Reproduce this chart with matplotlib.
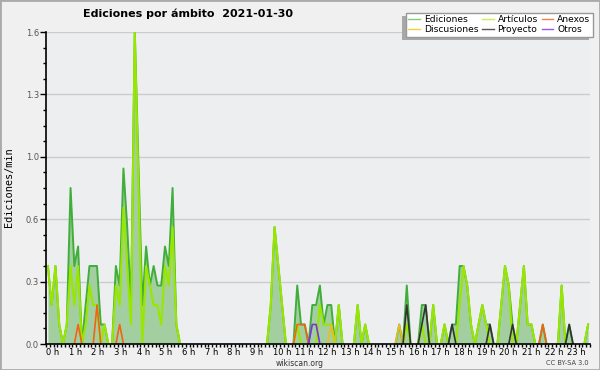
import numpy as np
import matplotlib.pyplot as plt
import matplotlib.transforms as mtransforms
from matplotlib.lines import Line2D
from matplotlib.patches import Rectangle
from matplotlib.ticker import FixedLocator, MultipleLocator

# edits per minute, one value per 10-minute bin (144 bins)
ediciones = [
    0.4, 0.2, 0.4, 0.1, 0.0, 0.1, 0.8, 0.4, 0.5, 0.0, 0.2, 0.4,
    0.4, 0.4, 0.1, 0.1, 0.0, 0.0, 0.4, 0.3, 0.9, 0.6, 0.2, 1.6,
    0.9, 0.2, 0.5, 0.3, 0.4, 0.3, 0.3, 0.5, 0.4, 0.8, 0.1, 0.0,
    0.0, 0.0, 0.0, 0.0, 0.0, 0.0, 0.0, 0.0, 0.0, 0.0, 0.0, 0.0,
    0.0, 0.0, 0.0, 0.0, 0.0, 0.0, 0.0, 0.0, 0.0, 0.0, 0.0, 0.2,
    0.6, 0.4, 0.2, 0.0, 0.0, 0.0, 0.3, 0.1, 0.1, 0.0, 0.2, 0.2,
    0.3, 0.1, 0.2, 0.2, 0.0, 0.2, 0.0, 0.0, 0.0, 0.0, 0.2, 0.0,
    0.1, 0.0, 0.0, 0.0, 0.0, 0.0, 0.0, 0.0, 0.0, 0.1, 0.0, 0.3,
    0.0, 0.0, 0.0, 0.2, 0.2, 0.0, 0.2, 0.0, 0.0, 0.1, 0.0, 0.1,
    0.1, 0.4, 0.4, 0.3, 0.1, 0.0, 0.1, 0.2, 0.1, 0.1, 0.0, 0.0,
    0.2, 0.4, 0.3, 0.1, 0.0, 0.2, 0.4, 0.1, 0.1, 0.0, 0.0, 0.1,
    0.0, 0.0, 0.0, 0.0, 0.3, 0.0, 0.1, 0.0, 0.0, 0.0, 0.0, 0.1,
]
articulos = [
    0.4, 0.2, 0.4, 0.1, 0.0, 0.1, 0.4, 0.2, 0.4, 0.0, 0.1, 0.3,
    0.2, 0.2, 0.0, 0.1, 0.0, 0.0, 0.3, 0.2, 0.7, 0.4, 0.1, 1.6,
    0.8, 0.0, 0.4, 0.3, 0.2, 0.2, 0.1, 0.4, 0.3, 0.6, 0.1, 0.0,
    0.0, 0.0, 0.0, 0.0, 0.0, 0.0, 0.0, 0.0, 0.0, 0.0, 0.0, 0.0,
    0.0, 0.0, 0.0, 0.0, 0.0, 0.0, 0.0, 0.0, 0.0, 0.0, 0.0, 0.2,
    0.6, 0.4, 0.2, 0.0, 0.0, 0.0, 0.1, 0.0, 0.0, 0.0, 0.0, 0.0,
    0.2, 0.1, 0.1, 0.1, 0.0, 0.2, 0.0, 0.0, 0.0, 0.0, 0.2, 0.0,
    0.1, 0.0, 0.0, 0.0, 0.0, 0.0, 0.0, 0.0, 0.0, 0.0, 0.0, 0.1,
    0.0, 0.0, 0.0, 0.1, 0.0, 0.0, 0.2, 0.0, 0.0, 0.1, 0.0, 0.0,
    0.0, 0.2, 0.4, 0.3, 0.1, 0.0, 0.1, 0.2, 0.1, 0.0, 0.0, 0.0,
    0.2, 0.4, 0.3, 0.0, 0.0, 0.2, 0.4, 0.1, 0.1, 0.0, 0.0, 0.0,
    0.0, 0.0, 0.0, 0.0, 0.3, 0.0, 0.0, 0.0, 0.0, 0.0, 0.0, 0.1,
]
# sparse series: {bin index: edits/min}
anexos = {8: 0.1, 13: 0.2, 19: 0.1, 66: 0.1, 67: 0.1, 68: 0.1, 131: 0.1}
discusiones = {75: 0.1, 93: 0.1}
proyecto = {95: 0.2, 99: 0.1, 100: 0.2, 107: 0.1, 117: 0.1, 123: 0.1, 138: 0.1}
otros = {70: 0.1, 71: 0.1}

hour_labels = [f"{h} h" for h in range(24)]
y_ticks = [0.0, 0.32, 0.64, 0.96, 1.28, 1.6]

n = len(ediciones)
x = (np.arange(n) + 0.5) / 6.0


def dense(d):
    v = np.zeros(n)
    for k, val in d.items():
        v[k] = val
    return v


def masked(v):
    # hide long runs of zeros so nothing is drawn along the axis
    v = np.asarray(v, dtype=float)
    keep = v > 0
    keep[1:] |= v[:-1] > 0
    keep[:-1] |= v[1:] > 0
    out = v.copy()
    out[~keep] = np.nan
    return out


fig = plt.figure(figsize=(6, 3.7), dpi=100, facecolor='#f0f0f0')
ax = fig.add_axes([46 / 600, 26 / 370, 544 / 600, 312 / 370])
ax.set_facecolor('#eceef0')

ed = np.array(ediciones)
ax.fill_between(x, ed, 0, color='#a3cfa0', lw=0, zorder=1)
ax.plot(x, masked(ed), color='#3fae3a', lw=1.4, zorder=2)
ax.plot(x, masked(articulos), color='#99e600', lw=1.5, zorder=3)
ax.plot(x, masked(dense(anexos)), color='#f06414', lw=1.2, zorder=4)
ax.plot(x, masked(dense(discusiones)), color='#eebb22', lw=1.2, zorder=4)
ax.plot(x, masked(dense(proyecto)), color='#333333', lw=1.2, zorder=4)
ax.plot(x, masked(dense(otros)), color='#8030e0', lw=1.2, zorder=4)

ax.set_xlim(0, 24)
ax.set_ylim(0, 1.6)
ax.yaxis.set_major_locator(FixedLocator(y_ticks))
ax.set_yticklabels([f"{v:.1f}" for v in y_ticks])
ax.yaxis.set_minor_locator(MultipleLocator(0.08))
ax.xaxis.set_major_locator(FixedLocator(range(24)))
ax.set_xticklabels(hour_labels, ha='left')
ax.xaxis.set_minor_locator(MultipleLocator(1 / 6))
shift = mtransforms.ScaledTranslation(-6 / 100, 0, fig.dpi_scale_trans)
for lab in ax.get_xticklabels():
    lab.set_transform(lab.get_transform() + shift)

ax.tick_params(axis='y', which='major', length=4, width=1, labelsize=6, labelcolor='#555555', pad=1)
ax.tick_params(axis='y', which='minor', length=2.5, width=1)
ax.tick_params(axis='x', which='both', length=2.5, width=1, labelsize=6, pad=0.5)
for s in ['top', 'right']:
    ax.spines[s].set_visible(False)
for s in ['left', 'bottom']:
    ax.spines[s].set_linewidth(1.2)
    ax.spines[s].set_zorder(6)
ax.yaxis.grid(True, color='#cccccc', lw=1)
ax.set_axisbelow(True)

fig.text(188 / 600, 1 - 14 / 370, 'Ediciones por ámbito  2021-01-30', ha='center', va='center',
         fontsize=8, fontweight='bold')
fig.text(9 / 600, 1 - 187 / 370, 'Ediciones/min', rotation=90, ha='center', va='center',
         family='DejaVu Sans Mono', fontsize=7.4)
fig.text(0.5, 1 - 363 / 370, 'wikiscan.org', ha='center', va='center', fontsize=5.5, color='#333333')
fig.text(589 / 600, 1 - 363 / 370, 'CC BY-SA 3.0', ha='right', va='center', fontsize=4.8, color='#444444')

handles = [
    Line2D([], [], color='#80cc80', lw=1),
    Line2D([], [], color='#f5d040', lw=1),
    Line2D([], [], color='#ccee55', lw=1),
    Line2D([], [], color='#555555', lw=1),
    Line2D([], [], color='#f08050', lw=1),
    Line2D([], [], color='#9955ee', lw=1),
]
labels = ['Ediciones', 'Discusiones', 'Artículos', 'Proyecto', 'Anexos', 'Otros']
leg = ax.legend(handles, labels, ncol=3, loc='upper right', bbox_to_anchor=(593 / 600, 1 - 12.7 / 370),
                bbox_transform=fig.transFigure, borderaxespad=0, fontsize=6.6, handlelength=1.3,
                handletextpad=0.4, columnspacing=0.4, labelspacing=0.1, borderpad=0.3,
                fancybox=False, framealpha=1, edgecolor='#999999', facecolor='white')
leg.set_zorder(7)

fig.canvas.draw()
bb = leg.get_window_extent()
shadow = Rectangle((bb.x0 - 4, bb.y0 - 3), bb.width, bb.height, transform=mtransforms.IdentityTransform(),
                   facecolor='#a8a8a8', edgecolor='none', clip_on=False, zorder=6.9)
ax.add_artist(shadow)

fig.add_artist(Rectangle((0, 0), 1, 1, transform=fig.transFigure, fill=False,
                         edgecolor='#aaaaaa', lw=2, zorder=10))

fig.savefig('out.png', dpi=100, facecolor=fig.get_facecolor())
